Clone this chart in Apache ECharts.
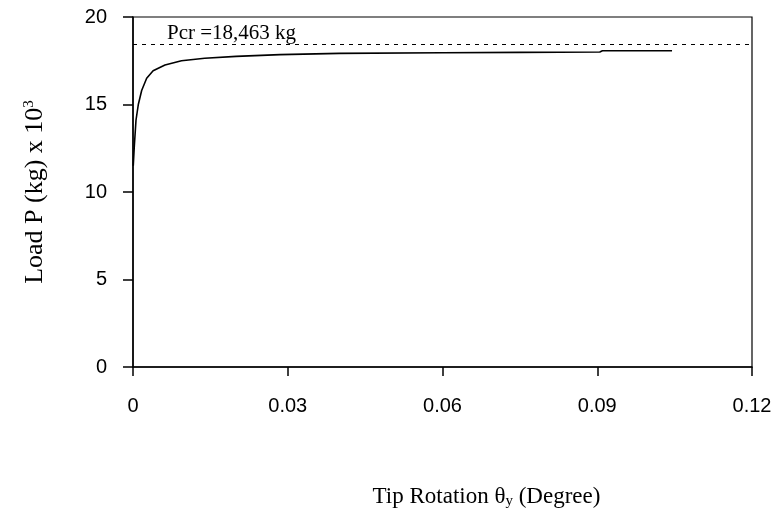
<!DOCTYPE html>
<html>
<head>
<meta charset="utf-8">
<script src="https://cdn.jsdelivr.net/npm/echarts@6/dist/echarts.min.js"></script>
<style>
  html, body { margin: 0; padding: 0; background: #fff; }
  #container { width: 779px; height: 528px; }
</style>
</head>
<body>
<div id="container"></div>
<script type="text/javascript">
// tip rotation (degree) vs load (x 10^3 kg)
var rotation = [0.00005, 0.00025, 0.00058, 0.00103, 0.00168, 0.00265, 0.0039, 0.0062, 0.0094, 0.0139, 0.02, 0.0285, 0.04, 0.06, 0.075, 0.0905, 0.091, 0.1045];
var load     = [11.5, 12.6, 14.1, 15.0, 15.8, 16.5, 16.93, 17.26, 17.5, 17.64, 17.75, 17.85, 17.92, 17.96, 17.98, 18.0, 18.07, 18.07];
var pcr = 18.463;
var pcrLabel = 'Pcr =18,463 kg';
var xTicks = [0, 0.03, 0.06, 0.09, 0.12];
var yTicks = [0, 5, 10, 15, 20];

var curve = [];
for (var i = 0; i < rotation.length; i++) {
    curve.push([rotation[i], load[i]]);
}

var dom = document.getElementById("container");
var myChart = echarts.init(dom);
var option = {
    animation: false,
    backgroundColor: '#fff',
    grid: {
        left: 133, right: 27, top: 17, bottom: 161,
        show: true, borderColor: '#000', borderWidth: 1.2
    },
    xAxis: {
        type: 'value',
        min: xTicks[0], max: xTicks[xTicks.length - 1], interval: 0.03,
        splitLine: {show: false},
        axisLine: {lineStyle: {color: '#000', width: 1.5}},
        axisTick: {inside: false, length: 9, lineStyle: {color: '#000', width: 1.5}},
        axisLabel: {
            margin: 29, color: '#000', fontSize: 20, fontFamily: 'Liberation Sans',
            formatter: function (v) { return v === 0 ? '0' : v.toFixed(2); }
        },
        name: '{t|Tip Rotation θ}{s|y}{t| (Degree)}',
        nameLocation: 'middle',
        nameGap: 117,
        nameTextStyle: {
            padding: [0, 0, 0, 88],
            rich: {
                t: {fontFamily: 'Liberation Serif', fontSize: 23, color: '#000'},
                s: {fontFamily: 'Liberation Serif', fontSize: 15, color: '#000', verticalAlign: 'bottom', padding: [10, 0, 0, 0]}
            }
        }
    },
    yAxis: {
        type: 'value',
        min: yTicks[0], max: yTicks[yTicks.length - 1], interval: 5,
        splitLine: {show: false},
        axisLine: {lineStyle: {color: '#000', width: 1.5}},
        axisTick: {inside: false, length: 10, lineStyle: {color: '#000', width: 1.5}},
        axisLabel: {margin: 26, color: '#000', fontSize: 20, fontFamily: 'Liberation Sans'},
        name: '{t|Load P (kg) x 10}{p|3}',
        nameLocation: 'middle',
        nameGap: 84,
        nameTextStyle: {
            rich: {
                t: {fontFamily: 'Liberation Serif', fontSize: 26, color: '#000'},
                p: {fontFamily: 'Liberation Serif', fontSize: 15, color: '#000', verticalAlign: 'top', padding: [0, 0, 12, 0]}
            }
        }
    },
    series: [
        {
            type: 'line',
            data: curve,
            showSymbol: false,
            lineStyle: {color: '#000', width: 1.6},
            markLine: {
                silent: true,
                symbol: 'none',
                lineStyle: {color: '#000', width: 1.2, type: [4, 5]},
                label: {
                    position: 'insideStartTop',
                    formatter: pcrLabel,
                    offset: [29, 5],
                    color: '#000',
                    fontFamily: 'Liberation Serif',
                    fontSize: 21
                },
                data: [{yAxis: pcr}]
            }
        }
    ]
};
myChart.setOption(option, true);
</script>
</body>
</html>
